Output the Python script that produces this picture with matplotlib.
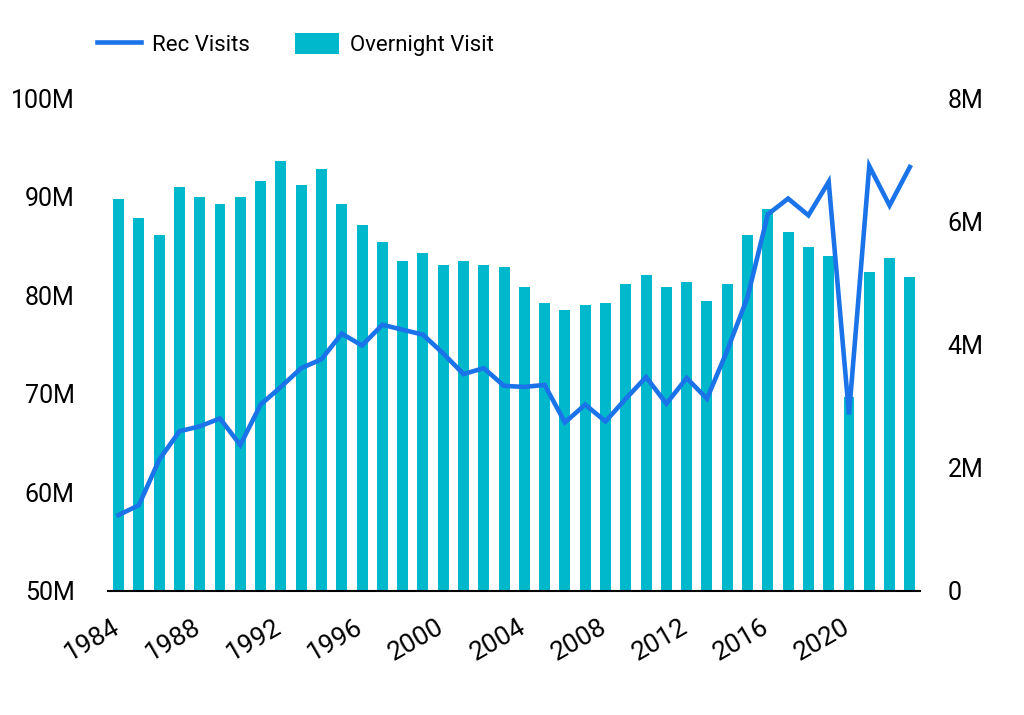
import numpy as np
import matplotlib.pyplot as plt
import matplotlib.transforms as mtransforms
from matplotlib.ticker import FuncFormatter

plt.rcParams['font.family'] = ['Roboto', 'DejaVu Sans']

# --- données ---
years = np.arange(1984, 2024)
rec_visits = [57.7, 58.7, 63.3, 66.2, 66.7, 67.5, 64.8, 68.9, 70.7, 72.6,
              73.5, 76.1, 74.9, 77.0, 76.5, 76.0, 74.1, 72.0, 72.6, 70.8,
              70.7, 70.9, 67.1, 68.9, 67.2, 69.5, 71.7, 69.0, 71.6, 69.5,
              74.4, 79.8, 88.2, 89.8, 88.1, 91.5, 67.9, 93.1, 89.1, 93.0]  # millions
overnight = [6.36, 6.05, 5.78, 6.55, 6.39, 6.28, 6.39, 6.66, 6.97, 6.59,
             6.85, 6.28, 5.94, 5.67, 5.36, 5.48, 5.29, 5.36, 5.29, 5.25,
             4.94, 4.68, 4.56, 4.64, 4.68, 4.98, 5.13, 4.94, 5.02, 4.71,
             4.98, 5.78, 6.20, 5.82, 5.59, 5.44, 3.14, 5.17, 5.40, 5.10]  # millions
x_ticks = list(range(1984, 2024, 4))[:10]

line_color = '#1a73e8'
bar_color = '#00b8cc'

fig = plt.figure(figsize=(10.24, 7.15), dpi=100)
ax = fig.add_axes([108/1024, 1 - 591/715, 812/1024, 493/715])
ax2 = ax.twinx()

# barres sur l'axe de droite, ligne au-dessus sur l'axe de gauche
ax2.bar(years, overnight, width=0.54, color=bar_color, label='Overnight Visit')
ax.plot(years, rec_visits, color=line_color, linewidth=3.3, label='Rec Visits',
        solid_joinstyle='miter')
ax.set_zorder(ax2.get_zorder() + 1)
ax.patch.set_visible(False)

ax.set_xlim(1983.48, 2023.5)
ax.set_ylim(50, 100)
ax2.set_ylim(0, 8)
ax.set_yticks([50, 60, 70, 80, 90, 100])
ax2.set_yticks([0, 2, 4, 6, 8])
ax.yaxis.set_major_formatter(FuncFormatter(lambda v, p: f'{v:.0f}M'))
ax2.yaxis.set_major_formatter(FuncFormatter(lambda v, p: '0' if v == 0 else f'{v:.0f}M'))
ax.set_xticks(x_ticks)

for a in (ax, ax2):
    for s in ('top', 'left', 'right', 'bottom'):
        a.spines[s].set_visible(False)
ax.spines['bottom'].set_visible(True)
ax.spines['bottom'].set_color('black')
ax.spines['bottom'].set_linewidth(1.5)

ax.tick_params(axis='y', length=0, pad=24, labelsize=18)
ax2.tick_params(axis='y', length=0, pad=20, labelsize=18)
ax.tick_params(axis='x', length=0, pad=17, labelsize=19)
shift = mtransforms.ScaledTranslation(5/100, 0, fig.dpi_scale_trans)
for lab in ax.get_xticklabels():
    lab.set_rotation(30)
    lab.set_ha('right')
    lab.set_transform(lab.get_transform() + shift)

h1, l1 = ax.get_legend_handles_labels()
h2, l2 = ax2.get_legend_handles_labels()
fig.legend(h1 + h2, l1 + l2, loc='upper left', bbox_to_anchor=(0.075, 0.982),
           ncol=2, frameon=False, fontsize=16, handlelength=2.0,
           handleheight=1.1, columnspacing=2.0, handletextpad=0.5)

fig.savefig('out.png', dpi=100)
